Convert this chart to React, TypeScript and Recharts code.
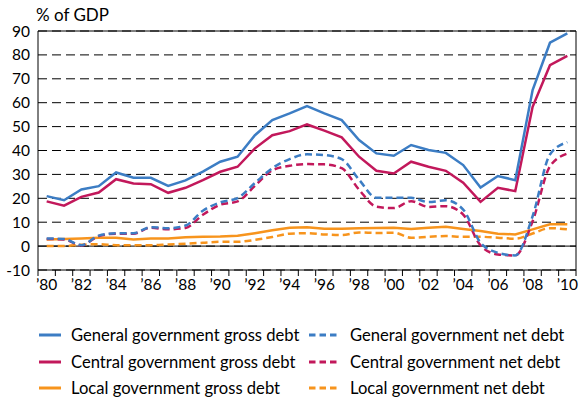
import React from 'react';
import {
  LineChart,
  Line,
  XAxis,
  YAxis,
  CartesianGrid,
  ReferenceLine,
} from 'recharts';

const years = [
  1980, 1981, 1982, 1983, 1984, 1985, 1986, 1987, 1988, 1989, 1990, 1991, 1992, 1993, 1994, 1995,
  1996, 1997, 1998, 1999, 2000, 2001, 2002, 2003, 2004, 2005, 2006, 2007, 2008, 2009, 2010,
];
const generalGross = [
  20.9, 19.2, 23.7, 25.1, 30.8, 28.6, 28.6, 25.2, 27.5, 31.2, 35.3, 37.4, 46.4, 52.7, 55.5, 58.6,
  55.5, 52.7, 44.4, 38.8, 37.8, 42.3, 40.2, 39.0, 33.9, 24.5, 29.3, 27.6, 65.3, 85.1, 89.0,
];
const centralGross = [
  18.7, 16.9, 20.6, 22.4, 28.0, 26.2, 25.9, 22.3, 24.4, 27.6, 31.1, 33.2, 40.9, 46.4, 48.1, 50.9,
  48.3, 45.5, 37.4, 31.5, 30.4, 35.3, 33.2, 31.5, 26.5, 18.5, 24.4, 23.0, 58.3, 75.7, 79.6,
];
const localGross = [
  2.8, 3.0, 3.2, 3.5, 3.5, 2.8, 3.2, 3.2, 3.7, 3.9, 4.0, 4.3, 5.4, 6.6, 7.7, 7.9,
  7.3, 7.3, 7.5, 7.6, 7.7, 7.2, 7.7, 8.1, 7.2, 6.3, 5.2, 4.9, 7.0, 9.1, 9.1,
];
const generalNet = [
  3.2, 3.0, 0.4, 4.4, 5.4, 5.4, 7.9, 7.5, 8.6, 14.8, 18.3, 20.1, 26.4, 32.6, 36.4, 38.4,
  38.1, 36.4, 27.8, 20.2, 20.2, 20.2, 18.4, 19.2, 15.3, 1.4, -2.8, -3.9, 12.5, 38.3, 43.5,
];
const centralNet = [
  3.0, 2.8, 0.3, 4.2, 5.2, 5.2, 7.7, 7.0, 7.6, 13.1, 17.3, 18.7, 25.2, 31.7, 33.6, 34.3,
  34.2, 32.6, 23.6, 16.5, 15.9, 18.8, 16.4, 16.7, 13.2, 0.3, -3.5, -3.9, 10.4, 33.4, 38.7,
];
const localNet = [
  0, 0, 0.6, 0.8, 0.4, 0.4, 0.4, 0.7, 1.0, 1.4, 1.8, 1.8, 2.6, 3.8, 5.2, 5.4,
  4.9, 4.6, 5.7, 5.5, 5.6, 3.5, 3.9, 4.2, 3.9, 3.9, 3.5, 3.1, 5.3, 7.5, 7.0,
];
const yTicks = [-10, 0, 10, 20, 30, 40, 50, 60, 70, 80, 90];

const BLUE = '#3c7dc4';
const RED = '#c2185b';
const ORANGE = '#f7941d';
const FONT = 'Lato, sans-serif';

const W = 581;
const H = 402;
const LEFT = 38;
const RIGHT_M = 4;
const PLOT_W = W - LEFT - RIGHT_M - 1;
const HALF = PLOT_W / years.length / 2;

const data = years.map((year, i) => ({
  year,
  generalGross: generalGross[i],
  centralGross: centralGross[i],
  localGross: localGross[i],
  generalNet: generalNet[i],
  centralNet: centralNet[i],
  localNet: localNet[i],
}));

const series = [
  { key: 'localNet', name: 'Local government net debt', color: ORANGE, dashed: true },
  { key: 'localGross', name: 'Local government gross debt', color: ORANGE, dashed: false },
  { key: 'centralNet', name: 'Central government net debt', color: RED, dashed: true },
  { key: 'generalNet', name: 'General government net debt', color: BLUE, dashed: true },
  { key: 'centralGross', name: 'Central government gross debt', color: RED, dashed: false },
  { key: 'generalGross', name: 'General government gross debt', color: BLUE, dashed: false },
];

const legendRows = [
  ['generalGross', 'generalNet'],
  ['centralGross', 'centralNet'],
  ['localGross', 'localNet'],
];

function YearTick(props: any) {
  const { x, y, payload, index } = props;
  const yr = Number(payload.value);
  const isLast = index === years.length - 1;
  return (
    <g>
      <line x1={x - HALF} x2={x - HALF} y1={y - 6} y2={y} stroke='#000' />
      {isLast && <line x1={x + HALF} x2={x + HALF} y1={y - 6} y2={y} stroke='#000' />}
      {yr % 2 === 0 && (
        <text x={x} y={y} dy={14} textAnchor='middle' fontSize={15.5} fontFamily={FONT} fill='#000'>
          {'\u2019' + String(yr).slice(2)}
        </text>
      )}
    </g>
  );
}

function Swatch({ color, dashed }: { color: string; dashed: boolean }) {
  const w = dashed ? 28 : 22;
  return (
    <svg width={w} height={4} style={{ display: 'block' }}>
      <line
        x1={0}
        x2={w}
        y1={2}
        y2={2}
        stroke={color}
        strokeWidth={3}
        strokeDasharray={dashed ? '6.5 4' : undefined}
      />
    </svg>
  );
}

export default function App() {
  const byKey = Object.fromEntries(series.map((s) => [s.key, s]));
  return (
    <div style={{ position: 'absolute', left: 0, top: 0, width: W, height: H, background: '#fff', fontFamily: FONT }}>
      <div style={{ position: 'absolute', left: 36, top: 4, fontSize: 17, lineHeight: '22px' }}>% of GDP</div>
      <LineChart width={W} height={H} data={data} margin={{ top: 31, right: RIGHT_M, left: 0, bottom: 102 }}>
        <CartesianGrid vertical={false} stroke='#000' strokeDasharray='9 5' />
        <XAxis
          dataKey='year'
          interval={0}
          height={30}
          padding={{ left: HALF, right: HALF }}
          tickLine={false}
          tickSize={6}
          tickMargin={0}
          axisLine={{ stroke: '#000' }}
          tick={<YearTick />}
        />
        <YAxis
          domain={[-10, 90]}
          ticks={yTicks}
          width={LEFT}
          tickLine={false}
          axisLine={{ stroke: '#000' }}
          tick={{ fill: '#000', fontSize: 15.5, fontFamily: FONT }}
        />
        <YAxis yAxisId='r' orientation='right' width={1} domain={[-10, 90]} tick={false} tickLine={false} axisLine={{ stroke: '#000' }} />
        <ReferenceLine y={0} stroke='#000' />
        <ReferenceLine y={90} stroke='#000' />
        {series.map((s) => (
          <Line
            key={s.key}
            dataKey={s.key}
            name={s.name}
            type={s.dashed ? 'monotone' : 'linear'}
            stroke={s.color}
            strokeWidth={2.5}
            strokeDasharray={s.dashed ? '7 4' : undefined}
            dot={false}
            isAnimationActive={false}
          />
        ))}
      </LineChart>
      {legendRows.map((row, r) =>
        row.map((key, c) => {
          const s = byKey[key];
          return (
            <div
              key={key}
              style={{
                position: 'absolute',
                left: c === 0 ? 39 : 309,
                top: 325 + r * 26.5,
                height: 20,
                display: 'flex',
                alignItems: 'center',
                fontSize: 16.6,
                whiteSpace: 'nowrap',
              }}
            >
              <Swatch color={s.color} dashed={s.dashed} />
              <span style={{ marginLeft: c === 0 ? 10 : 13 }}>{s.name}</span>
            </div>
          );
        })
      )}
    </div>
  );
}
